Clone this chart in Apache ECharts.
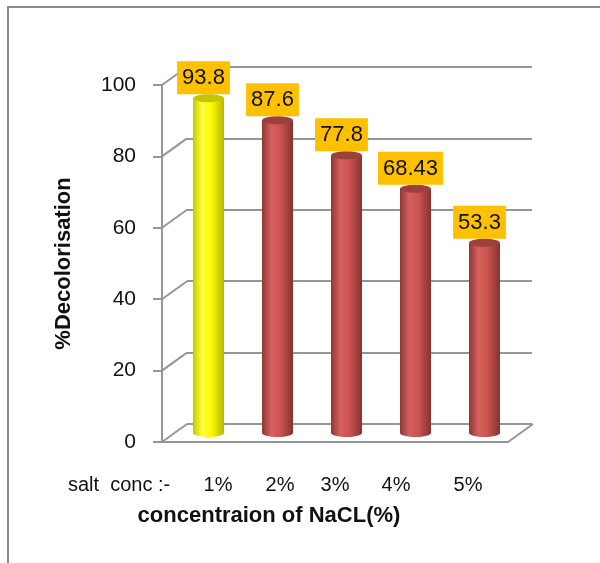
<!DOCTYPE html>
<html>
<head>
<meta charset="utf-8">
<script src="https://cdn.jsdelivr.net/npm/echarts@6/dist/echarts.min.js"></script>
<style>html,body{margin:0;padding:0;background:#fff}#c{width:600px;height:563px}</style>
</head>
<body>
<div id="c"></div>
<script>
// ---- data ----
const categories = ['1%', '2%', '3%', '4%', '5%'];
const decolorisation = [93.8, 87.6, 77.8, 68.43, 53.3];
const yTicks = [0, 20, 40, 60, 80, 100];
const labelPrefix = 'salt  conc :-';
const yTitle = '%Decolorisation';
const xTitle = 'concentraion of NaCL(%)';
const highlightIndex = 0;

// ---- layout ----
const catLabelX = [218, 280, 335, 396, 468];
const DX = 25, DY = -18;
const gridColor = '#969696';
const font = 'Liberation Sans, Arial, sans-serif';

const chart = echarts.init(document.getElementById('c'));

function cylinder(params, api) {
  const i = api.value(0), v = api.value(1);
  const top = api.coord([i, v]);
  const bot = api.coord([i, 0]);
  const w = 31, rx = w / 2, ry = 4;
  const cx = top[0];
  const yellow = i === highlightIndex;
  const grad = yellow
    ? new echarts.graphic.LinearGradient(0, 0, 1, 0, [
        {offset: 0, color: '#c8c800'}, {offset: 0.3, color: '#ffff40'},
        {offset: 0.6, color: '#fafa00'}, {offset: 1, color: '#b8b800'}])
    : new echarts.graphic.LinearGradient(0, 0, 1, 0, [
        {offset: 0, color: '#8e3735'}, {offset: 0.3, color: '#d6605d'},
        {offset: 0.6, color: '#cb5350'}, {offset: 1, color: '#863230'}]);
  const topColor = yellow ? '#c6c600' : '#9c403e';
  return {
    type: 'group',
    children: [
      {type: 'ellipse', shape: {cx: cx, cy: bot[1], rx: rx, ry: ry}, style: {fill: grad}},
      {type: 'rect', shape: {x: cx - rx, y: top[1], width: w, height: bot[1] - top[1]}, style: {fill: grad}},
      {type: 'ellipse', shape: {cx: cx, cy: top[1], rx: rx, ry: ry}, style: {fill: topColor}},
      {type: 'text', z2: 10, style: {
        text: String(decolorisation[i]), x: cx - 5, y: top[1] - 4,
        align: 'center', verticalAlign: 'bottom',
        font: '22px ' + font, fill: '#111',
        backgroundColor: '#FFC000', padding: [6, 5, 5, 5]
      }}
    ]
  };
}

function walls(params, api) {
  const cs = params.coordSys;
  const v = api.value(1);
  const y = api.coord([0, v])[1];
  const children = [
    {type: 'line', shape: {x1: cs.x, y1: y, x2: cs.x + DX, y2: y + DY}, style: {stroke: gridColor, lineWidth: 2}}
  ];
  if (v === 0) {
    children.push({type: 'line', shape: {x1: cs.x + cs.width, y1: y, x2: cs.x + cs.width + DX, y2: y + DY}, style: {stroke: gridColor, lineWidth: 2}});
  }
  return {type: 'group', children: children};
}

const graphics = [
  {type: 'rect', shape: {x: 8, y: 7, width: 700, height: 700}, style: {fill: 'none', stroke: '#8c8c8c', lineWidth: 2}, silent: true},
  {type: 'text', x: 68, y: 485, style: {text: labelPrefix, font: '20px ' + font, fill: '#111', align: 'left', verticalAlign: 'middle'}},
  {type: 'text', x: 269, y: 516, style: {text: xTitle, font: 'bold 22px ' + font, fill: '#111', align: 'center', verticalAlign: 'middle'}}
];
categories.forEach((c, k) => {
  graphics.push({type: 'text', x: catLabelX[k], y: 485, style: {text: c, font: '20px ' + font, fill: '#111', align: 'center', verticalAlign: 'middle'}});
});

chart.setOption({
  animation: false,
  backgroundColor: '#fff',
  grid: [
    {left: 162, top: 85, width: 346, height: 357},
    {left: 187, top: 67, width: 345, height: 357},
    {left: 174, top: 76, width: 345, height: 357}
  ],
  xAxis: [
    {gridIndex: 0, type: 'category', data: categories, axisLine: {show: true, lineStyle: {color: gridColor, width: 2}}, axisTick: {show: false}, axisLabel: {show: false}},
    {gridIndex: 1, type: 'category', data: categories, show: false},
    {gridIndex: 2, type: 'category', data: categories, show: false}
  ],
  yAxis: [
    {gridIndex: 0, type: 'value', min: 0, max: 100, interval: 20,
     axisLine: {show: true, lineStyle: {color: gridColor, width: 2}},
     axisTick: {show: true, length: 9, lineStyle: {color: gridColor, width: 2}},
     axisLabel: {fontSize: 21, fontFamily: font, color: '#111', margin: 26},
     splitLine: {show: false},
     name: yTitle, nameLocation: 'middle', nameRotate: 90, nameGap: 87,
     nameTextStyle: {fontSize: 22, fontWeight: 'bold', fontFamily: font, color: '#111'}},
    {gridIndex: 1, type: 'value', min: 0, max: 100, interval: 20,
     axisLine: {show: false}, axisTick: {show: false}, axisLabel: {show: false},
     splitLine: {show: true, lineStyle: {color: gridColor, width: 2}}},
    {gridIndex: 2, type: 'value', min: 0, max: 100, interval: 20, show: false, splitLine: {show: false}}
  ],
  series: [
    {type: 'custom', xAxisIndex: 0, yAxisIndex: 0, renderItem: walls,
     data: yTicks.map(v => [0, v]), silent: true, z: 1},
    {type: 'custom', xAxisIndex: 2, yAxisIndex: 2, renderItem: cylinder,
     data: decolorisation.map((v, i) => [i, v]), z: 5}
  ],
  graphic: graphics
});
</script>
</body>
</html>
